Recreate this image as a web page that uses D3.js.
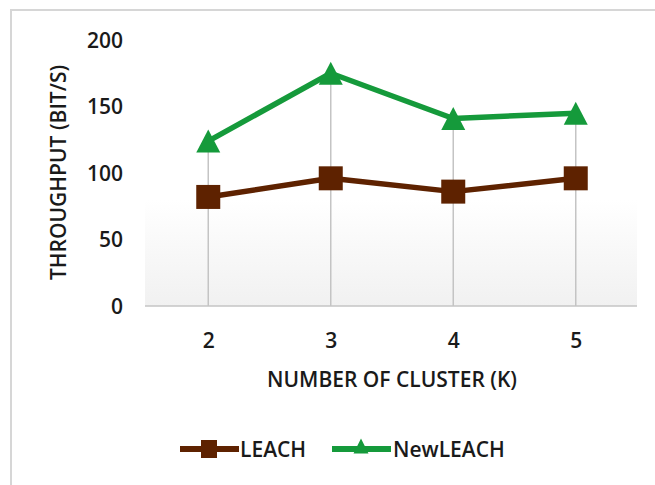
<!DOCTYPE html>
<html>
<head>
<meta charset="utf-8">
<script src="https://cdn.jsdelivr.net/npm/d3@7"></script>
<style>
  body { margin: 0; background: #fff; }
  svg text { font-family: "Open Sans", Lato, sans-serif; font-weight: 600; fill: #1a1a1a; }
</style>
</head>
<body>
<div id="chart"></div>
<script>
// data
var clusters = ["2", "3", "4", "5"];
var leach = [82, 96, 86, 96];
var newLeach = [124, 175, 141, 145];
var yTicks = [0, 50, 100, 150, 200];

var width = 655;
var height = 485;

var svg = d3.select("#chart").append("svg")
    .attr("width", width)
    .attr("height", height);

// outer frame
svg.append("rect")
    .attr("x", 11).attr("y", 10)
    .attr("width", 700).attr("height", 500)
    .attr("fill", "none")
    .attr("stroke", "#d6d6d6")
    .attr("stroke-width", 2);

var x = d3.scalePoint().domain(clusters).range([147, 637]).padding(0.5);
var y = d3.scaleLinear().domain([0, 200]).range([306, 40]);

// soft gray fade at the bottom of the plot
var defs = svg.append("defs");
var grad = defs.append("linearGradient")
    .attr("id", "fade")
    .attr("x1", 0).attr("y1", 0).attr("x2", 0).attr("y2", 1);
grad.append("stop").attr("offset", "0%").attr("stop-color", "#ffffff");
grad.append("stop").attr("offset", "100%").attr("stop-color", "#f1f1f1");

svg.append("rect")
    .attr("x", 145).attr("y", y(80))
    .attr("width", 492).attr("height", y(0) - y(80))
    .attr("fill", "url(#fade)");

// drop lines from the highest marker down to the baseline
svg.append("g")
    .selectAll("line")
    .data(clusters)
    .enter()
    .append("line")
    .attr("x1", d => x(d)).attr("x2", d => x(d))
    .attr("y1", (d, i) => y(Math.max(leach[i], newLeach[i])))
    .attr("y2", y(0))
    .attr("stroke", "#c4c4c4")
    .attr("stroke-width", 1.5);

// axes
var yAxis = svg.append("g")
    .attr("transform", "translate(147,0)")
    .call(d3.axisLeft(y).tickValues(yTicks).tickSize(0).tickPadding(24));
yAxis.select(".domain").remove();
yAxis.selectAll("text")
    .style("font-size", "21px")
    .attr("dy", "0.35em");

var xAxis = svg.append("g")
    .attr("transform", "translate(0," + y(0) + ")")
    .call(d3.axisBottom(x).tickSize(0).tickSizeOuter(0).tickPadding(27));
xAxis.select(".domain")
    .attr("d", "M145,0H637")
    .attr("stroke", "#c4c4c4")
    .attr("stroke-width", 1.5);
xAxis.selectAll("text")
    .style("font-size", "21px");

// axis titles
svg.append("text")
    .attr("x", 392).attr("y", 387)
    .attr("text-anchor", "middle")
    .style("font-size", "21px")
    .text("NUMBER OF CLUSTER (K)");

svg.append("text")
    .attr("transform", "translate(66,172.5) rotate(-90)")
    .attr("text-anchor", "middle")
    .style("font-size", "21px")
    .text("THROUGHPUT (BIT/S)");

// series
var brown = "#5e2200";
var green = "#159a3b";

var line = d3.line()
    .x((d, i) => x(clusters[i]))
    .y(d => y(d));

svg.append("path")
    .datum(newLeach)
    .attr("d", line)
    .attr("fill", "none")
    .attr("stroke", green)
    .attr("stroke-width", 5.5)
    .attr("stroke-linejoin", "round");

svg.append("path")
    .datum(leach)
    .attr("d", line)
    .attr("fill", "none")
    .attr("stroke", brown)
    .attr("stroke-width", 5.5)
    .attr("stroke-linejoin", "round");

// triangle marker centred on the point
function triangle(cx, cy, w, h) {
    var p = d3.path();
    p.moveTo(cx, cy - h / 2);
    p.lineTo(cx + w / 2, cy + h / 2);
    p.lineTo(cx - w / 2, cy + h / 2);
    p.closePath();
    return p.toString();
}

svg.append("g")
    .selectAll("path")
    .data(newLeach)
    .enter()
    .append("path")
    .attr("d", (d, i) => triangle(x(clusters[i]), y(d), 24, 23))
    .attr("fill", green);

svg.append("g")
    .selectAll("rect")
    .data(leach)
    .enter()
    .append("rect")
    .attr("x", (d, i) => x(clusters[i]) - 12)
    .attr("y", d => y(d) - 12)
    .attr("width", 24).attr("height", 24)
    .attr("fill", brown);

// legend
var legend = svg.append("g");

legend.append("line")
    .attr("x1", 180).attr("x2", 239)
    .attr("y1", 449).attr("y2", 449)
    .attr("stroke", brown).attr("stroke-width", 6);
legend.append("rect")
    .attr("x", 201).attr("y", 440)
    .attr("width", 16).attr("height", 18)
    .attr("fill", brown);
legend.append("text")
    .attr("x", 240).attr("y", 457)
    .style("font-size", "21px")
    .text("LEACH");

legend.append("line")
    .attr("x1", 332).attr("x2", 391)
    .attr("y1", 449).attr("y2", 449)
    .attr("stroke", green).attr("stroke-width", 6);
legend.append("path")
    .attr("d", triangle(361, 446, 15, 15))
    .attr("fill", green);
legend.append("text")
    .attr("x", 393).attr("y", 457)
    .style("font-size", "21px")
    .text("NewLEACH");
</script>
</body>
</html>
